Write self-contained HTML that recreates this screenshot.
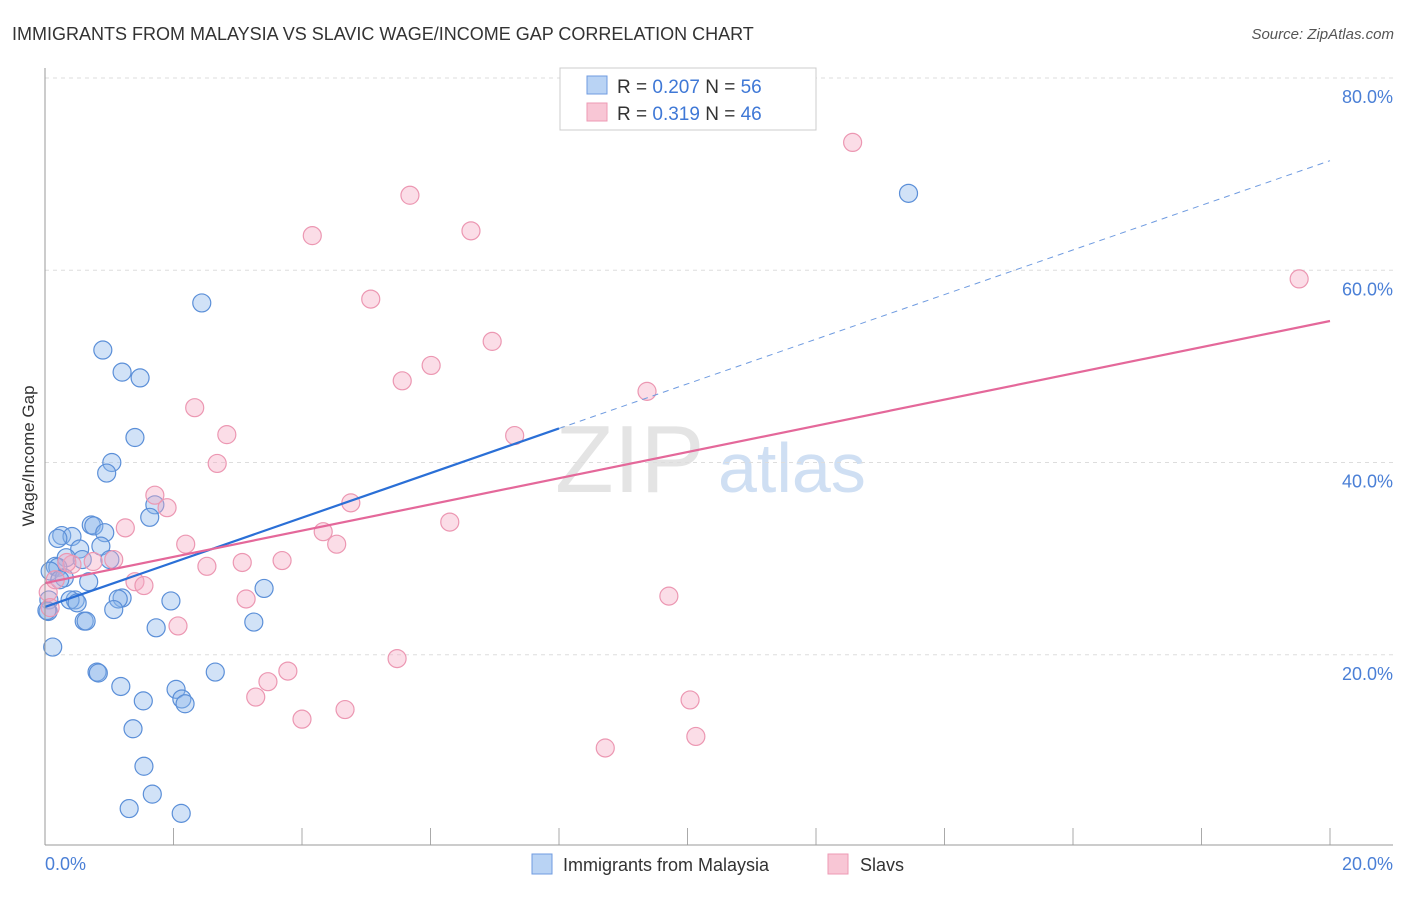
<!DOCTYPE html>
<html><head><meta charset="utf-8"><style>
body{margin:0;background:#fff;font-family:"Liberation Sans",sans-serif}
svg text{font-family:"Liberation Sans",sans-serif}
</style></head><body>
<svg id="c" width="1406" height="892" xmlns="http://www.w3.org/2000/svg">
<text x="12" y="40" font-size="18" fill="#333">IMMIGRANTS FROM MALAYSIA VS SLAVIC WAGE/INCOME GAP CORRELATION CHART</text>
<text x="1394" y="39" font-size="15" fill="#555" text-anchor="end" font-style="italic">Source: ZipAtlas.com</text>
<text x="34" y="456" font-size="17" fill="#333" text-anchor="middle" transform="rotate(-90 34 456)">Wage/Income Gap</text>
<text x="555" y="492" font-size="96" fill="#e4e4e4" font-family="Liberation Serif">ZIP</text>
<text x="718" y="492" font-size="70" fill="#cfdff3">atlas</text>
<g id="grid"></g><g id="pts"></g><g id="lines"></g>
<line x1="45" y1="68" x2="45" y2="845" stroke="#999"/>
<line x1="45" y1="845" x2="1393" y2="845" stroke="#999"/>
<text x="45" y="870" font-size="18" fill="#4a7fd6">0.0%</text>
<text x="1393" y="870" font-size="18" fill="#4a7fd6" text-anchor="end">20.0%</text>
<g>
<rect x="560" y="68" width="256" height="62" fill="#fff" stroke="#ccc"/>
<rect x="587" y="76" width="20" height="18" fill="#b9d3f4" stroke="#6f9be0"/>
<rect x="587" y="103" width="20" height="18" fill="#f8c6d5" stroke="#ee9ab4"/>
<text x="617" y="93" font-size="19" fill="#333">R = <tspan fill="#3f78d6">0.207</tspan>   N = <tspan fill="#3f78d6">56</tspan></text>
<text x="617" y="120" font-size="19" fill="#333">R =  <tspan fill="#3f78d6">0.319</tspan>   N = <tspan fill="#3f78d6">46</tspan></text>
</g>
<g>
<rect x="532" y="854" width="20" height="20" fill="#b9d3f4" stroke="#6f9be0"/>
<text x="563" y="871" font-size="18" fill="#333">Immigrants from Malaysia</text>
<rect x="828" y="854" width="20" height="20" fill="#f8c6d5" stroke="#ee9ab4"/>
<text x="860" y="871" font-size="18" fill="#333">Slavs</text>
</g>
</svg>
<script>
const yTicks=[20,40,60,80];
const xTicks=[0,2,4,6,8,10,12,14,16,18,20];
const blueX=[13.44,2.44,0.90,1.20,1.48,1.40,1.04,0.96,1.71,1.63,0.72,0.76,0.26,0.42,0.20,0.93,0.87,0.54,0.33,0.58,1.01,0.16,0.20,0.08,0.30,0.68,1.20,1.14,0.47,0.39,0.50,1.96,3.41,0.06,0.05,1.07,0.61,0.64,1.73,3.25,0.12,0.81,0.83,2.65,1.18,2.04,1.53,2.13,2.18,1.37,1.54,1.67,1.31,2.12,0.03,0.23];
const blueY=[68.0,56.6,51.7,49.4,48.8,42.6,40.0,38.9,35.6,34.3,33.5,33.4,32.4,32.3,32.1,32.7,31.3,31.0,30.1,29.9,29.9,29.2,29.1,28.7,28.0,27.6,25.9,25.8,25.7,25.7,25.4,25.6,26.9,25.7,24.5,24.7,23.5,23.5,22.8,23.4,20.8,18.2,18.1,18.2,16.7,16.4,15.2,15.4,14.9,12.3,8.4,5.5,4.0,3.5,24.6,27.8];
const pinkX=[12.57,5.68,6.63,4.16,5.07,19.52,6.96,6.01,5.56,9.37,2.33,2.83,7.31,2.68,1.71,1.90,4.76,6.30,1.25,4.33,4.54,2.19,1.07,0.75,0.42,0.34,3.69,3.07,2.52,1.40,1.54,3.13,9.71,2.07,0.05,0.08,5.48,3.78,3.47,3.28,10.04,4.00,4.67,10.13,8.72,0.16];
const pinkY=[73.3,67.8,64.1,63.6,57.0,59.1,52.6,50.1,48.5,47.4,45.7,42.9,42.8,39.9,36.6,35.3,35.8,33.8,33.2,32.8,31.5,31.5,29.9,29.7,29.4,29.6,29.8,29.6,29.2,27.6,27.2,25.8,26.1,23.0,26.5,24.9,19.6,18.3,17.2,15.6,15.3,13.3,14.3,11.5,10.3,27.8];
const blueTrend=[24.97,71.4], blueSolidEnd=8.0;
const pinkTrend=[27.46,54.72];
const NS='http://www.w3.org/2000/svg';
const X=v=>45+v/20*1285, Y=v=>847-v*9.6125;
function mk(t,a,p){const e=document.createElementNS(NS,t);for(const k in a)e.setAttribute(k,a[k]);p.appendChild(e);return e;}
const grid=document.getElementById('grid');
yTicks.forEach(t=>{
 const l=mk('line',{x1:45,x2:1393,y1:Y(t),y2:Y(t),stroke:'#ddd','stroke-dasharray':'4,4'},grid);
 
 
 const tx=mk('text',{x:1393,y:Y(t)+25,'font-size':18,fill:'#4a7fd6','text-anchor':'end'},grid);
 tx.textContent=t.toFixed(1)+'%';
 
 
});
xTicks.forEach(t=>{
 const l=mk('line',{x1:X(t),x2:X(t),y1:828,y2:845,stroke:'#aaa'},grid);
 
 
});
const pts=document.getElementById('pts');
blueX.forEach((x,i)=>{
 const c=mk('circle',{cx:X(x),cy:Y(blueY[i]),r:9,fill:'rgba(140,182,236,0.4)',stroke:'#5b8fd8','stroke-width':1.2},pts);
 
 
});
pinkX.forEach((x,i)=>{
 const c=mk('circle',{cx:X(x),cy:Y(pinkY[i]),r:9,fill:'rgba(246,170,195,0.4)',stroke:'#ec97b2','stroke-width':1.2},pts);
 
 
});
const lines=document.getElementById('lines');
const bAt=x=>blueTrend[0]+(blueTrend[1]-blueTrend[0])*x/20;
let l1=mk('line',{x1:X(0),y1:Y(bAt(0)),x2:X(blueSolidEnd),y2:Y(bAt(blueSolidEnd)),stroke:'#2a6fd6','stroke-width':2.2},lines);


let l2=mk('line',{x1:X(blueSolidEnd),y1:Y(bAt(blueSolidEnd)),x2:X(20),y2:Y(bAt(20)),stroke:'#6f9be0','stroke-width':1,'stroke-dasharray':'6,5'},lines);


let l3=mk('line',{x1:X(0),y1:Y(pinkTrend[0]),x2:X(20),y2:Y(pinkTrend[1]),stroke:'#e4689a','stroke-width':2.2},lines);


</script>
</body></html>
